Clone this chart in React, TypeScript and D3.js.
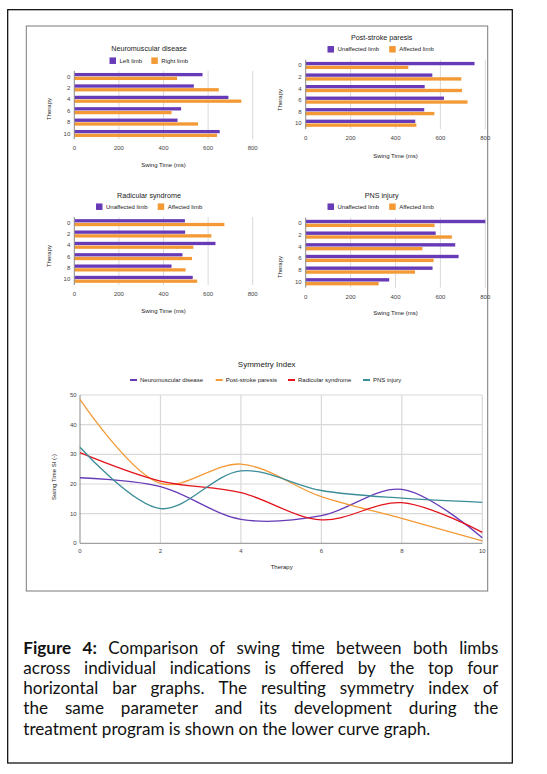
import React, { useMemo, useEffect } from 'react';
import * as d3 from 'd3';

// ---------- data ----------
const therapy = ['0', '2', '4', '6', '8', '10'];
const swingTicks = [0, 200, 400, 600, 800];

const nmLeft = [575, 536, 691, 479, 463, 652];
const nmRight = [461, 648, 749, 436, 555, 640];
const psUnaffected = [752, 564, 530, 616, 528, 488];
const psAffected = [457, 693, 696, 721, 573, 493];
const rsUnaffected = [496, 497, 633, 485, 436, 531];
const rsAffected = [673, 615, 534, 528, 499, 551];
const pnsUnaffected = [800, 579, 666, 681, 565, 372];
const pnsAffected = [574, 651, 520, 570, 487, 325];

const siTherapy = [0, 2, 4, 6, 8, 10];
const siNeuromuscular = [22.1, 19.1, 8.1, 9.3, 18.2, 1.9];
const siPostStroke = [48.5, 20.2, 26.7, 15.7, 8.4, 0.8];
const siRadicular = [30.6, 21.0, 17.1, 7.9, 13.7, 3.7];
const siPns = [32.4, 11.7, 24.4, 17.8, 15.2, 13.8];
const siYTicks = [0, 10, 20, 30, 40, 50];
const siXTicks = [0, 2, 4, 6, 8, 10];

const captionLines = [
  'Figure 4: Comparison of swing time between both limbs',
  'across individual indications is offered by the top four',
  'horizontal bar graphs. The resulting symmetry index of',
  'the same parameter and its development during the',
  'treatment program is shown on the lower curve graph.',
];

// ---------- styles ----------
const FONT = '"Liberation Sans", Arial, sans-serif';
const PURPLE = '#673ab7';
const ORANGE = '#f39a36';
const RED = '#e3141c';
const TEAL = '#3b8d98';
const GRID = '#d9d9d9';
const BASE = '#8a8a8a';
const TXT = '#222';
const TICK = '#444';

type BarProps = {
  title: string;
  names: [string, string];
  a: number[];
  b: number[];
  x0: number; x1: number; top: number; bottom: number;
  titleX: number; titleY: number; legendY: number; legendXs: [number, number];
  tickY: number; axisTitleY: number; therapyX: number; therapyY: number;
};

function BarChart(p: BarProps) {
  const x = d3.scaleLinear().domain([0, 800]).range([p.x0, p.x1]);
  const y = d3.scaleBand<string>().domain(therapy).range([p.top, p.bottom]);
  const group = y.bandwidth() * 0.62;
  const inner = d3.scaleBand<string>().domain(['a', 'b']).range([0, group]).paddingInner(0.12);
  const off = (y.bandwidth() - group) / 2;
  const sq = 6.5;
  return (
    <g fontFamily={FONT}>
      <text x={p.titleX} y={p.titleY} fontSize={7.2} fill={TXT} textAnchor="middle" dominantBaseline="central">{p.title}</text>
      {p.names.map((n, i) => (
        <g key={n}>
          <rect x={p.legendXs[i]} y={p.legendY - sq / 2} width={sq} height={sq} fill={i === 0 ? PURPLE : ORANGE} />
          <text x={p.legendXs[i] + sq + 3.5} y={p.legendY} fontSize={6} fill={TXT} dominantBaseline="central">{n}</text>
        </g>
      ))}
      {swingTicks.filter(t => t > 0).map(t => (
        <line key={t} x1={x(t)} x2={x(t)} y1={p.top} y2={p.bottom} stroke={GRID} strokeWidth={1} />
      ))}
      {therapy.map((c, i) => (
        <g key={c}>
          <rect x={x(0)} y={(y(c) as number) + off + (inner('a') as number)} width={x(p.a[i]) - x(0)} height={inner.bandwidth()} fill={PURPLE} />
          <rect x={x(0)} y={(y(c) as number) + off + (inner('b') as number)} width={x(p.b[i]) - x(0)} height={inner.bandwidth()} fill={ORANGE} />
          <text x={p.x0 - 4} y={(y(c) as number) + y.bandwidth() / 2} fontSize={6} fill={TICK} textAnchor="end" dominantBaseline="central">{c}</text>
        </g>
      ))}
      <line x1={x(0)} x2={x(0)} y1={p.top} y2={p.bottom} stroke={BASE} strokeWidth={1} />
      {swingTicks.map(t => (
        <text key={t} x={x(t)} y={p.tickY} fontSize={6} fill={TICK} textAnchor="middle" dominantBaseline="central">{t}</text>
      ))}
      <text x={(p.x0 + p.x1) / 2} y={p.axisTitleY} fontSize={6} fill={TXT} textAnchor="middle" dominantBaseline="central">Swing Time (ms)</text>
      <text transform={`translate(${p.therapyX},${p.therapyY}) rotate(-90)`} fontSize={6} fill={TXT} textAnchor="middle" dominantBaseline="central">Therapy</text>
    </g>
  );
}

function LineChart() {
  const x = d3.scaleLinear().domain([0, 10]).range([80, 482.3]);
  const y = d3.scaleLinear().domain([0, 50]).range([543.3, 395]);
  const line = d3.line<number>().x((_, i) => x(siTherapy[i])).y(d => y(d)).curve(d3.curveCatmullRom.alpha(0.5));
  const series = [
    { name: 'Neuromuscular disease', v: siNeuromuscular, c: PURPLE, lx: 130 },
    { name: 'Post-stroke paresis', v: siPostStroke, c: ORANGE, lx: 215.7 },
    { name: 'Radicular syndrome', v: siRadicular, c: RED, lx: 288 },
    { name: 'PNS injury', v: siPns, c: TEAL, lx: 363 },
  ];
  return (
    <g fontFamily={FONT}>
      <text x={266.7} y={364} fontSize={8} fill={TXT} textAnchor="middle" dominantBaseline="central">Symmetry Index</text>
      {series.map(s => (
        <g key={s.name}>
          <line x1={s.lx} x2={s.lx + 7} y1={380} y2={380} stroke={s.c} strokeWidth={2} />
          <text x={s.lx + 10} y={380} fontSize={6} fill={TXT} dominantBaseline="central">{s.name}</text>
        </g>
      ))}
      {siYTicks.filter(t => t > 0).map(t => (
        <line key={'gy' + t} x1={x(0)} x2={x(10)} y1={y(t)} y2={y(t)} stroke={GRID} strokeWidth={1.2} />
      ))}
      {siXTicks.filter(t => t > 0).map(t => (
        <line key={'gx' + t} x1={x(t)} x2={x(t)} y1={y(50)} y2={y(0)} stroke={GRID} strokeWidth={1.2} />
      ))}
      <line x1={x(0)} x2={x(0)} y1={y(50)} y2={y(0)} stroke={BASE} strokeWidth={1} />
      <line x1={x(0)} x2={x(10)} y1={y(0)} y2={y(0)} stroke={BASE} strokeWidth={1} />
      {series.map(s => (
        <path key={s.name} d={line(s.v) || ''} fill="none" stroke={s.c} strokeWidth={1.3} />
      ))}
      {siYTicks.map(t => (
        <text key={'ty' + t} x={76.7} y={y(t)} fontSize={6} fill={TICK} textAnchor="end" dominantBaseline="central">{t}</text>
      ))}
      {siXTicks.map(t => (
        <text key={'tx' + t} x={x(t)} y={551} fontSize={6} fill={TICK} textAnchor="middle" dominantBaseline="central">{t}</text>
      ))}
      <text x={281.7} y={567.3} fontSize={6} fill={TXT} textAnchor="middle" dominantBaseline="central">Therapy</text>
      <text transform="translate(54,477) rotate(-90)" fontSize={6} fill={TXT} textAnchor="middle" dominantBaseline="central">Swing Time SI (-)</text>
    </g>
  );
}

const CAP_SIZE = 17.1;
const CAP_FONT = 'Lato, "Open Sans", sans-serif';

function Caption() {
  const words = useMemo(() => {
    const canvas = document.createElement('canvas');
    const ctx = canvas.getContext('2d')!;
    const left = 23.3, right = 498.3;
    const baselines = [653.5, 673.7, 694, 714.3, 734.5];
    const out: { t: string; x: number; y: number; bold: boolean }[] = [];
    let boldCount = 2;
    captionLines.forEach((ln, li) => {
      const ws = ln.split(' ');
      const info = ws.map(w => {
        const bold = boldCount > 0;
        if (bold) boldCount--;
        ctx.font = `${bold ? 'bold ' : ''}${CAP_SIZE}px ${CAP_FONT}`;
        return { t: w, bold, w: ctx.measureText(w).width };
      });
      ctx.font = `${CAP_SIZE}px ${CAP_FONT}`;
      const space = ctx.measureText(' ').width;
      const total = info.reduce((s, d) => s + d.w, 0);
      const last = li === captionLines.length - 1;
      const gap = last ? space : (right - left - total) / (info.length - 1);
      let cx = left;
      info.forEach(d => {
        out.push({ t: d.t, x: cx, y: baselines[li], bold: d.bold });
        cx += d.w + gap;
      });
    });
    return out;
  }, []);
  return (
    <g fontFamily={CAP_FONT} fontSize={CAP_SIZE} fill="#111">
      {words.map((w, i) => (
        <text key={i} x={w.x} y={w.y} fontWeight={w.bold ? 'bold' : 'normal'}>{w.t}</text>
      ))}
    </g>
  );
}

export default function App() {
  useEffect(() => {
    document.body.style.margin = '0';
  }, []);
  return (
    <svg width={547} height={774} style={{ display: 'block', background: '#fff' }}>
      <rect x={0} y={0} width={547} height={774} fill="#fff" />
      <rect x={7.7} y={9.7} width={504.6} height={753.3} fill="none" stroke="#000" strokeWidth={1.2} />
      <rect x={26.3} y={26} width={461.4} height={565} fill="none" stroke="#7a7a7a" strokeWidth={1} />
      <BarChart title="Neuromuscular disease" names={['Left limb', 'Right limb']} a={nmLeft} b={nmRight}
        x0={74.3} x1={252.7} top={70.8} bottom={139.2} titleX={149} titleY={48.3} legendY={60.7} legendXs={[109.5, 151.3]}
        tickY={148.3} axisTitleY={165} therapyX={49} therapyY={109} />
      <BarChart title="Post-stroke paresis" names={['Unaffected limb', 'Affected limb']} a={psUnaffected} b={psAffected}
        x0={305.7} x1={485.3} top={59.7} bottom={129} titleX={381.7} titleY={37.3} legendY={49.3} legendXs={[327.5, 389.2]}
        tickY={138.3} axisTitleY={155.7} therapyX={280} therapyY={100} />
      <BarChart title="Radicular syndrome" names={['Unaffected limb', 'Affected limb']} a={rsUnaffected} b={rsAffected}
        x0={74.3} x1={252.7} top={217} bottom={285} titleX={149} titleY={195} legendY={206.7} legendXs={[96, 157.7]}
        tickY={294} axisTitleY={310.7} therapyX={49} therapyY={256} />
      <BarChart title="PNS injury" names={['Unaffected limb', 'Affected limb']} a={pnsUnaffected} b={pnsAffected}
        x0={305.7} x1={485.3} top={217.6} bottom={287.6} titleX={381.7} titleY={195} legendY={206.7} legendXs={[327.5, 389.2]}
        tickY={296.7} axisTitleY={313.3} therapyX={280} therapyY={267} />
      <LineChart />
      <Caption />
    </svg>
  );
}
